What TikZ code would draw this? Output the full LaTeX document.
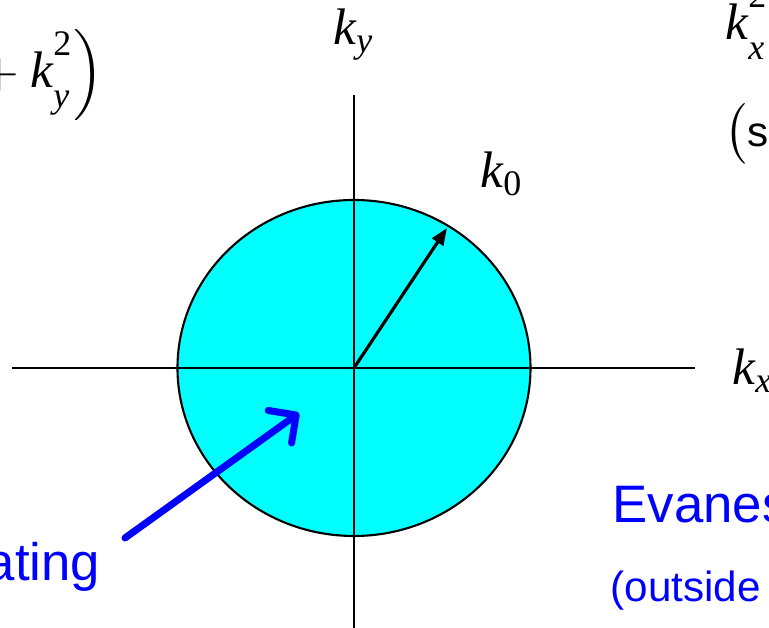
\documentclass[tikz,border=0pt]{standalone}
\usepackage{amsmath}
\usepackage{fontspec}
\setmainfont{Liberation Serif}
\setsansfont{Liberation Sans}
\usetikzlibrary{arrows.meta}
\definecolor{Disc}{HTML}{00FFFF}
\definecolor{Note}{HTML}{0000FF}
\newcommand{\kv}[1]{\textit{k}_{#1}}
\newcommand{\ksq}[1]{\textit{k}^{\raisebox{3pt}{$\scriptstyle\textnormal{2}$}}_{\raisebox{-2pt}{$\scriptstyle\textit{#1}$}}}
\tikzset{
  axis/.style={line width=0.75pt},
  klabel/.style={inner sep=0pt,anchor=base west,font=\fontsize{14.6}{17}\selectfont},
  note/.style={Note,inner sep=0pt,font=\sffamily\fontsize{15}{18}\selectfont},
  smallnote/.style={Note,inner sep=0pt,font=\sffamily\fontsize{12}{14}\selectfont},
}

\begin{document}
\begin{tikzpicture}[x=0.01cm,y=-0.01cm]
        \useasboundingbox (0,0) rectangle (769,628);
        \clip (0,0) rectangle (769,628);
        % k-space disc
        \coordinate (o) at (354,368);
        \draw[fill=Disc,line width=0.6pt] (o) ellipse [x radius=176.5,y radius=168];
        \coordinate (xl) at (12,368);\coordinate (xr) at (695,368);
        \coordinate (yt) at (354,95);\coordinate (yb) at (354,640);
        \draw[axis] (xl)--(xr);
        \draw[axis] (yt)--(yb);
        \coordinate (kzero) at (447,228);
        \draw[line width=0.9pt,-{Triangle[length=1.7mm,width=1.3mm]}] (o)--(kzero);
        % labels
        \node[klabel] (ky) at (333,45) {$\kv{\textit{y}}$};
        \node[klabel] (kx) at (732,385) {$\kv{\textit{x}}$};
        \node[klabel] (k0) at (480,188) {$\kv{\textnormal{0}}$};
        \node[klabel,anchor=base east] (kz) at (104,88)
          {$\ksq{z}=\ksq{\textnormal{0}}-\Bigl(\ksq{x}+\ksq{y}\Bigr)$};
        \node[klabel] (cond) at (725,40) {$\ksq{x}+\ksq{y}>\ksq{\textnormal{0}}$};
        \node[klabel] (since) at (724,147) {$\bigl($\textsf{\large so \textit{k}$_{\textit{z}}$ is imaginary}$\bigr)$};
        % regions
        \node[note,anchor=base east] (prop) at (101,581) {Propagating};
        \node[note,anchor=base west] (evan) at (612,523) {Evanescent};
        \node[smallnote,anchor=base west] (outside) at (610,602) {(outside circle)};
        \coordinate (inside) at (299,413);
        \draw[Note,line width=2pt,line cap=round,-{Straight Barb[length=2mm,width=4mm,round]}] (125,538)--(inside);
      \end{tikzpicture}
\end{document}
